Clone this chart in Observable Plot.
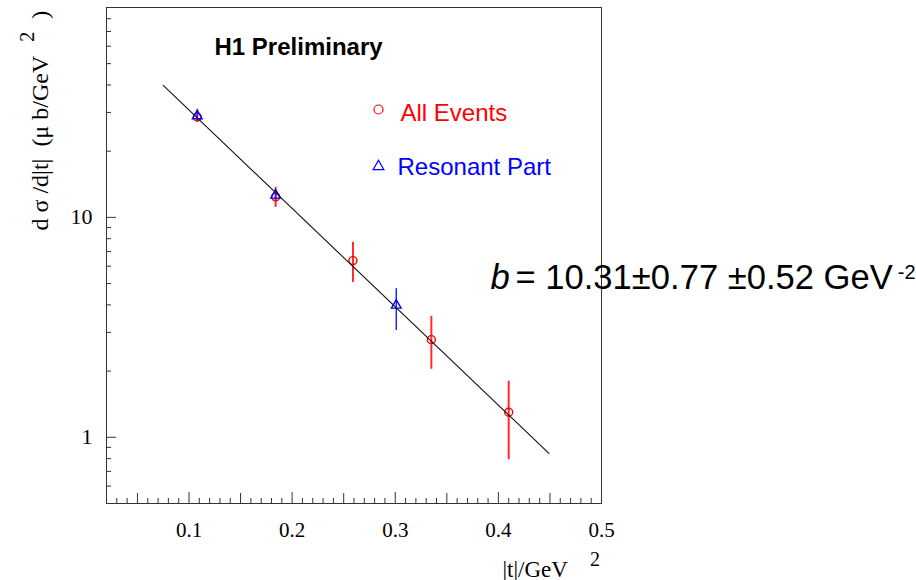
<!DOCTYPE html>
<html><head><meta charset="utf-8">
<script src="https://cdn.jsdelivr.net/npm/d3@7"></script>
<script src="https://cdn.jsdelivr.net/npm/@observablehq/plot@0.6"></script>
<style>html,body{margin:0;padding:0;background:#fff}svg{display:block}</style>
</head><body><div id="chart"></div>
<script>
// All events (red circles)
const allT  = [0.108, 0.184, 0.259, 0.335, 0.410];
const allY  = [28.6, 12.4, 6.36, 2.78, 1.30];
const allLo = [27.0, 11.1, 5.06, 2.04, 0.79];
const allHi = [31.0, 13.7, 7.70, 3.55, 1.80];
// Resonant part (blue triangles)
const resT  = [0.108, 0.184, 0.301];
const resY  = [28.9, 12.6, 3.98];
const resLo = [27.8, 12.0, 3.06];
const resHi = [30.1, 13.2, 4.74];
// exponential fit line end points
const fitT = [0.075, 0.449];
const fitY = [39.8, 0.845];
// ticks
const xMajor = [0.1, 0.2, 0.3, 0.4, 0.5];
const xMedium = [0.05, 0.15, 0.25, 0.35, 0.45];
const xMinor = [0.03,0.04,0.06,0.07,0.08,0.09,0.11,0.12,0.13,0.14,0.16,0.17,0.18,0.19,
  0.21,0.22,0.23,0.24,0.26,0.27,0.28,0.29,0.31,0.32,0.33,0.34,0.36,0.37,0.38,0.39,
  0.41,0.42,0.43,0.44,0.46,0.47,0.48,0.49];
const yMajor = [1, 10];
const yMinor = [0.6,0.7,0.8,0.9,2,3,4,5,6,7,8,9,20,30,40,50,60,70,80];
const xTickLabels = ["0.1","0.2","0.3","0.4","0.5"];
const yTickLabels = ["1","10"];

const allData = allT.map((t,i)=>({t, v: allY[i], lo: allLo[i], hi: allHi[i]}));
const resData = resT.map((t,i)=>({t, v: resY[i], lo: resLo[i], hi: resHi[i]}));
const fitData = fitT.map((t,i)=>({t, v: fitY[i]}));

const serif = "Liberation Serif", sans = "Liberation Sans";
const bText = "= 10.31\u00b10.77 \u00b10.52 GeV";
const xLabText = "|t|/GeV";
const yLabText = "d \u03c3 /d|t|\u00a0 (\u03bc b/GeV";
const note = (s, o) => Plot.text([s], {frameAnchor: "top-left", text: d => d, textAnchor: "start", lineAnchor: "bottom", fill: "black", ...o});

const chart = Plot.plot({
  width: 916, height: 580,
  marginLeft: 106, marginTop: 7, marginRight: 315, marginBottom: 77,
  style: {fontFamily: serif, background: "white", color: "black"},
  x: {domain: [0.02, 0.5], label: null},
  y: {type: "log", domain: [0.5, 90], label: null},
  marks: [
    Plot.frame({stroke: "#333"}),
    Plot.axisX({ticks: xMinor, tickSize: -5, tickFormat: () => "", stroke: "#333", label: null}),
    Plot.axisX({ticks: xMedium, tickSize: -10, tickFormat: () => "", stroke: "#333", label: null}),
    Plot.axisX({ticks: xMajor, tickSize: -11, tickFormat: () => "", stroke: "#333", label: null}),
    Plot.axisX({ticks: xMajor, tickSize: 0, tickPadding: 19, tickFormat: d => xTickLabels[xMajor.indexOf(d)], fontSize: 21, fontFamily: serif, label: null}),
    Plot.axisY({ticks: yMinor, tickSize: -5, tickFormat: () => "", stroke: "#333", label: null}),
    Plot.axisY({ticks: yMajor, tickSize: -10, tickFormat: () => "", stroke: "#333", label: null}),
    Plot.axisY({ticks: yMajor, tickSize: 0, tickPadding: 14, tickFormat: d => yTickLabels[yMajor.indexOf(d)], fontSize: 22, fontFamily: serif, label: null}),
    Plot.ruleX(allData, {x: "t", y1: "lo", y2: "hi", stroke: "#ff2a2a", strokeWidth: 2}),
    Plot.dot(allData, {x: "t", y: "v", r: 4, stroke: "#ff0000", fill: "none", strokeWidth: 1.4}),
    Plot.ruleX(resData, {x: "t", y1: "lo", y2: "hi", stroke: "#2020ff", strokeWidth: 1.5}),
    Plot.dot(resData, {x: "t", y: "v", symbol: "triangle", r: 3.6, stroke: "#0000ff", fill: "none", strokeWidth: 1.4}),
    Plot.line(fitData, {x: "t", y: "v", stroke: "#111", strokeWidth: 1.1}),
    // legend & annotations
    note("H1 Preliminary", {dx: 108, dy: 47, fontFamily: sans, fontWeight: "bold", fontSize: 24}),
    Plot.dot([0], {frameAnchor: "top-left", dx: 272, dy: 102, r: 4.5, stroke: "#ff0000", fill: "none", strokeWidth: 1.2}),
    note("All Events", {dx: 294, dy: 113, fontFamily: sans, fontSize: 24, fill: "#ff0000"}),
    Plot.dot([0], {frameAnchor: "top-left", dx: 272, dy: 159, r: 4, symbol: "triangle", stroke: "#0000ff", fill: "none", strokeWidth: 1.2}),
    note("Resonant Part", {dx: 291, dy: 167, fontFamily: sans, fontSize: 24, fill: "#0000ff"}),
    note("b", {dx: 384, dy: 281, fontFamily: sans, fontStyle: "italic", fontSize: 34.6}),
    note(bText, {dx: 409, dy: 281, fontFamily: sans, fontSize: 34.6}),
    note(xLabText, {dx: 396, dy: 569, fontFamily: serif, fontSize: 23}),
    Plot.text([yLabText], {frameAnchor: "top-left", text: d => d, dx: -66, dy: 223, rotate: -90, textAnchor: "start", lineAnchor: "middle", fontFamily: serif, fontSize: 24, fill: "black"})
  ]
});

// append superscripts as tspans on the same text lines
function addSup(content, parts) {
  const t = Array.from(chart.querySelectorAll("text")).find(el => el.textContent === content);
  if (!t) return;
  for (const p of parts) {
    const ts = document.createElementNS("http://www.w3.org/2000/svg", "tspan");
    ts.textContent = p.text;
    if (p.dx != null) ts.setAttribute("dx", p.dx);
    if (p.dy != null) ts.setAttribute("dy", p.dy);
    if (p.size != null) ts.setAttribute("font-size", p.size);
    t.appendChild(ts);
  }
}
addSup(bText, [{text: "-2", dx: 5, dy: -10, size: 20}]);
addSup(xLabText, [{text: "2", dx: 22, dy: -11, size: 20}]);
addSup(yLabText, [{text: "2", dx: 14, dy: -14, size: 20}, {text: ")", dx: 13, dy: 14, size: 24}]);

document.getElementById("chart").appendChild(chart);
</script>
</body></html>
